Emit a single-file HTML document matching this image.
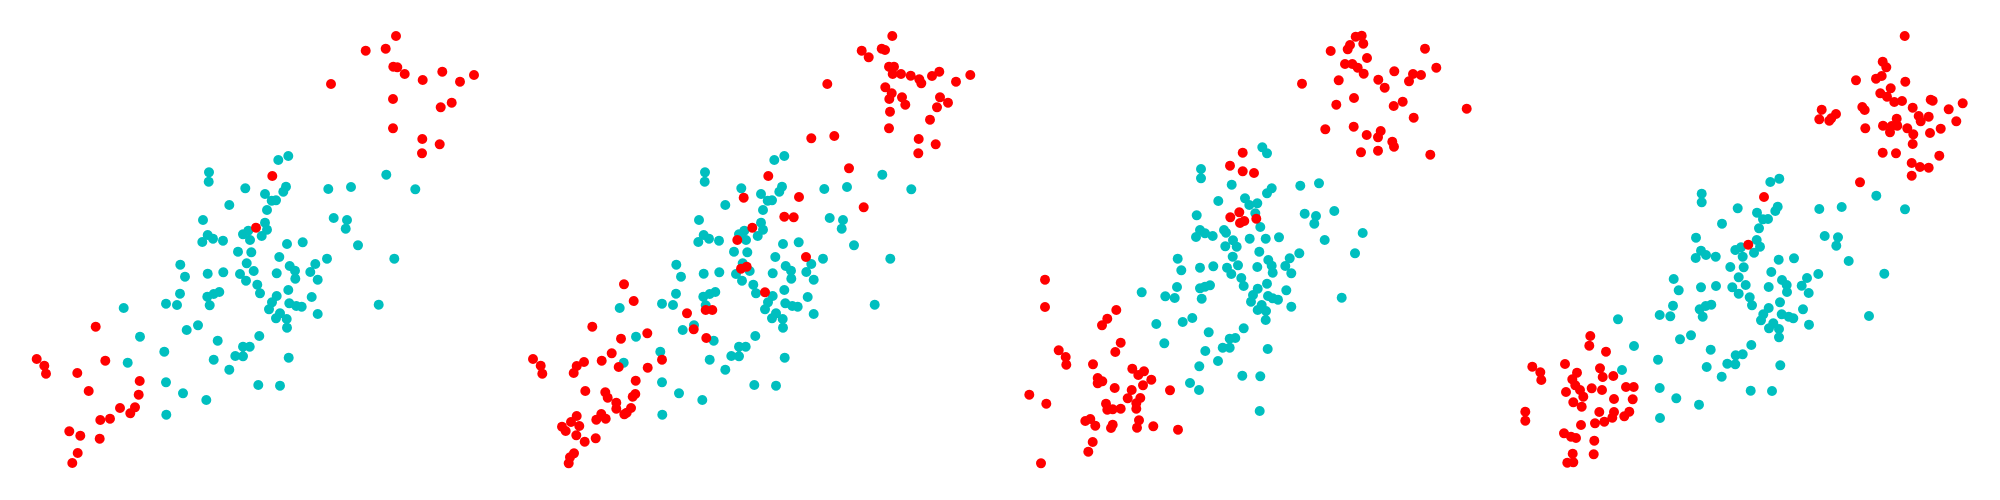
<!DOCTYPE html>
<html>
<head>
<meta charset="utf-8">
<style>
html,body{margin:0;padding:0;background:#fff;width:2000px;height:500px;overflow:hidden;}
svg{display:block;font-family:"Liberation Sans",sans-serif;}
</style>
</head>
<body>
<svg id="chart" width="2000" height="500" viewBox="0 0 2000 500" xmlns="http://www.w3.org/2000/svg"></svg>
<script>
// Data units: 0..1500 per panel (x rightward, y downward in panel units)
const panelOffsets = [0, 500, 1000, 1500];
const red1 = [[1188,108],[1097,152],[1157,146],[1180,200],[1192,202],[1214,222],[1268,240],[1327,215],[1380,245],[1422,225],[993,252],[1179,297],[1322,322],[1355,308],[1179,385],[1267,417],[1319,433],[1266,460],[817,528],[768,683],[287,980],[110,1077],[133,1097],[138,1121],[316,1082],[232,1119],[419,1143],[266,1173],[416,1184],[360,1224],[405,1222],[391,1240],[330,1256],[301,1260],[208,1294],[241,1307],[299,1316],[233,1359],[217,1389]];
const cyan1 = [[835,480],[865,468],[627,517],[626,545],[736,565],[858,560],[850,575],[795,582],[815,602],[828,601],[688,615],[801,630],[985,567],[1053,561],[1159,524],[1246,568],[609,660],[795,668],[801,689],[1001,654],[1041,660],[1037,686],[623,705],[639,716],[607,726],[669,722],[729,703],[745,692],[750,720],[785,708],[861,732],[908,727],[1074,736],[714,755],[754,757],[838,771],[740,790],[981,776],[1183,776],[541,794],[555,830],[623,821],[670,817],[720,822],[761,813],[738,842],[830,820],[869,798],[885,812],[886,836],[931,816],[946,792],[953,839],[772,854],[780,880],[865,870],[540,881],[622,890],[641,882],[658,876],[629,916],[830,888],[816,907],[807,928],[868,910],[889,918],[905,920],[935,891],[498,911],[531,915],[1136,914],[371,924],[953,942],[840,940],[828,955],[860,957],[861,983],[594,976],[560,990],[420,1010],[778,1008],[653,1022],[729,1040],[749,1040],[706,1068],[729,1069],[493,1055],[641,1079],[866,1073],[383,1088],[688,1109],[498,1147],[775,1155],[840,1157],[549,1180],[619,1200],[499,1244]];
const cyan2 = cyan1.map(p => [p[0] - 12, p[1]]);
const red2 = [[1177,108],[1085,152],[1106,172],[1145,146],[1155,150],[1167,200],[1182,200],[1178,222],[1203,222],[1232,227],[1258,238],[1264,250],[1296,228],[1318,215],[1368,245],[1411,225],[982,252],[1156,262],[1175,280],[1168,297],[1206,292],[1216,314],[1320,292],[1344,308],[1311,322],[1170,335],[1290,359],[1167,385],[934,415],[1003,408],[1256,417],[1307,433],[1255,460],[1047,505],[805,528],[731,593],[897,591],[1091,622],[853,650],[881,652],[757,683],[712,720],[918,771],[723,806],[740,800],[795,877],[372,853],[401,903],[561,940],[617,930],[637,930],[581,988],[619,1014],[277,980],[442,1000],[363,1016],[335,1060],[99,1077],[122,1097],[127,1121],[230,1098],[252,1086],[221,1119],[305,1082],[356,1101],[443,1103],[486,1079],[407,1142],[256,1173],[316,1177],[323,1193],[398,1190],[406,1182],[349,1208],[349,1226],[393,1224],[380,1238],[373,1243],[230,1248],[213,1266],[186,1280],[197,1293],[238,1278],[304,1242],[317,1256],[289,1259],[229,1306],[254,1325],[287,1315],[222,1360],[210,1372],[206,1390]];
const cyan3 = [[787,442],[801,460],[603,507],[603,535],[695,554],[901,557],[957,550],[815,565],[801,580],[655,603],[735,595],[748,615],[772,610],[766,640],[590,646],[914,641],[948,648],[943,671],[1003,633],[1088,699],[781,681],[600,690],[615,700],[588,711],[638,708],[672,690],[678,698],[699,721],[710,740],[676,739],[749,716],[797,716],[837,712],[974,720],[778,755],[698,770],[1065,760],[533,776],[544,811],[600,803],[640,799],[681,803],[714,796],[694,822],[772,801],[805,780],[815,797],[818,818],[856,798],[869,775],[874,820],[898,760],[724,834],[731,858],[801,851],[531,861],[600,865],[615,860],[630,856],[605,896],[773,866],[759,885],[753,905],[804,888],[818,895],[834,899],[859,871],[874,920],[425,877],[496,889],[524,894],[1025,893],[773,930],[785,915],[798,933],[797,960],[469,972],[548,966],[577,954],[626,997],[731,985],[689,1016],[706,1014],[668,1043],[689,1043],[493,1030],[616,1053],[803,1047],[654,1083],[598,1099],[727,1127],[781,1129],[570,1149],[597,1170],[779,1233]];
const red3 = [[1067,110],[1085,107],[1090,131],[1050,135],[1043,148],[992,153],[1275,146],[1101,174],[1035,192],[1057,192],[1073,203],[1091,221],[1183,214],[1239,222],[1263,225],[1227,244],[1309,203],[906,251],[1016,241],[1135,239],[1154,263],[1062,294],[1009,314],[1181,318],[1208,305],[1400,326],[1241,353],[976,388],[1061,380],[1100,405],[1134,412],[1142,393],[1177,425],[1182,440],[1083,457],[1134,452],[1291,464],[728,458],[690,497],[728,514],[762,519],[718,637],[691,652],[720,669],[733,663],[769,656],[135,839],[135,921],[349,930],[322,956],[306,976],[362,1028],[346,1056],[176,1051],[197,1071],[199,1094],[279,1093],[397,1106],[415,1125],[432,1114],[454,1139],[293,1134],[307,1144],[293,1150],[429,1156],[344,1164],[510,1171],[395,1170],[88,1184],[139,1211],[383,1195],[421,1194],[409,1210],[318,1211],[322,1229],[338,1228],[362,1226],[409,1226],[256,1263],[271,1257],[286,1277],[338,1274],[333,1284],[417,1261],[411,1283],[460,1279],[534,1289],[278,1326],[265,1355],[123,1390]];
const cyan4 = [[811,546],[838,536],[605,581],[605,607],[713,625],[833,620],[826,633],[771,638],[789,658],[804,657],[666,671],[777,685],[958,627],[1025,621],[1129,587],[1215,628],[588,713],[770,720],[780,740],[974,708],[1014,712],[1009,737],[603,752],[618,765],[587,774],[647,770],[706,750],[723,742],[728,770],[762,758],[836,779],[882,775],[1046,783],[691,801],[731,802],[1153,821],[716,832],[521,837],[536,871],[603,862],[648,858],[697,862],[737,855],[716,881],[806,861],[814,816],[846,840],[860,855],[861,876],[905,857],[921,834],[926,879],[955,822],[749,892],[756,916],[840,907],[519,917],[599,928],[617,918],[634,914],[608,950],[806,924],[790,943],[783,961],[845,943],[866,950],[880,955],[909,928],[479,945],[511,949],[1107,948],[354,958],[927,974],[820,970],[807,985],[837,987],[837,1012],[573,1006],[540,1018],[402,1038],[754,1035],[632,1049],[707,1066],[728,1063],[682,1091],[706,1093],[474,1079],[620,1101],[841,1096],[366,1110],[665,1130],[479,1164],[752,1172],[816,1173],[529,1195],[597,1214],[480,1254]];
const red4 = [[1214,108],[1148,185],[1159,202],[1068,241],[1128,236],[1145,228],[1216,245],[1172,265],[1141,280],[1161,290],[1183,306],[1206,303],[1292,299],[1298,302],[1238,323],[1346,328],[1388,310],[1087,321],[1094,330],[965,329],[1008,342],[958,358],[988,362],[994,355],[1190,356],[1175,378],[1192,377],[1256,348],[1262,364],[1286,350],[1149,377],[1096,385],[1170,397],[1222,385],[1240,403],[1238,432],[1290,399],[1322,386],[1369,364],[1148,458],[1188,460],[1318,467],[1235,489],[1260,501],[1286,503],[1235,527],[1080,547],[792,591],[745,734],[271,1008],[268,1037],[318,1055],[97,1100],[121,1117],[124,1140],[195,1092],[231,1118],[217,1138],[300,1105],[308,1131],[340,1128],[226,1156],[198,1176],[240,1170],[250,1190],[275,1165],[306,1170],[220,1207],[245,1220],[342,1197],[378,1161],[401,1161],[398,1198],[298,1236],[342,1236],[388,1235],[373,1249],[337,1253],[313,1265],[285,1270],[243,1275],[76,1235],[76,1262],[192,1300],[213,1310],[228,1314],[283,1322],[218,1361],[281,1363],[202,1388],[220,1387]];

const panels = [
  {cyan: cyan1, red: red1},
  {cyan: cyan2, red: red2},
  {cyan: cyan3, red: red3},
  {cyan: cyan4, red: red4}
];
const NS = 'http://www.w3.org/2000/svg';
const svg = document.getElementById('chart');
function xScale(i, v) { return panelOffsets[i] + v / 3; }
function yScale(v) { return v / 3; }
panels.forEach((p, i) => {
  const g = document.createElementNS(NS, 'g');
  
  
  svg.appendChild(g);
  [['cyan', '#00bfbf', p.cyan], ['red', '#ff0000', p.red]].forEach(([name, color, pts]) => {
    pts.forEach(pt => {
      const c = document.createElementNS(NS, 'circle');
      c.setAttribute('cx', xScale(i, pt[0]).toFixed(1));
      c.setAttribute('cy', yScale(pt[1]).toFixed(1));
      c.setAttribute('r', 5);
      c.setAttribute('fill', color);
      
      
      g.appendChild(c);
    });
  });
});
</script>
</body>
</html>
